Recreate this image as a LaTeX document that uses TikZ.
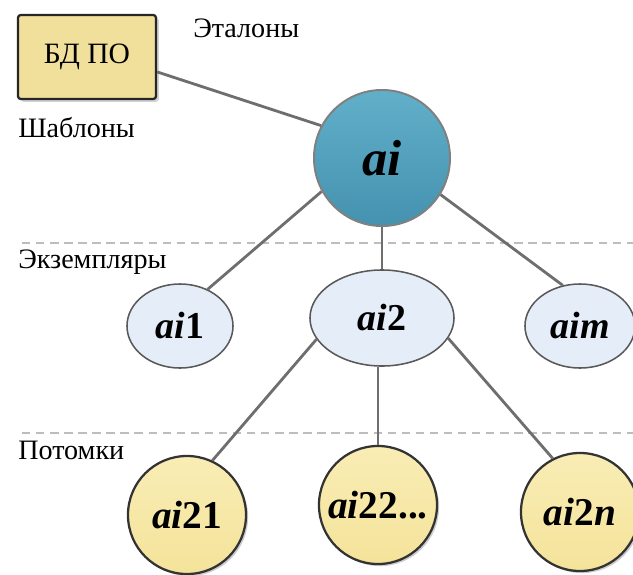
\documentclass[tikz,border=0pt]{standalone}
\usepackage{fontspec}
\setmainfont{Liberation Serif}
\usetikzlibrary{shapes.geometric, positioning, shadows}
\definecolor{tealnode}{HTML}{4492AF}
\definecolor{tealtop}{HTML}{62AFCA}
\definecolor{instfill}{HTML}{E5EEF8}
\definecolor{childfill}{HTML}{F4E39A}
\definecolor{childtop}{HTML}{F9EDB5}
\definecolor{dbfill}{HTML}{F0E09C}
\definecolor{linkgray}{HTML}{6E6E6E}
\definecolor{levelgray}{HTML}{BDBDBD}
\tikzset{
    dbbox/.style={rectangle, rounded corners=2pt, draw=black!85, line width=1.6pt, fill=dbfill, minimum width=3.45cm, minimum height=2.1cm, font=\fontsize{21}{24}\selectfont, drop shadow={opacity=0.35, shadow xshift=2pt, shadow yshift=-2pt}},
    topnode/.style={circle, draw=black!50, line width=1.4pt, top color=tealtop, bottom color=tealnode, minimum size=3.4cm, inner sep=0pt, font=\fontsize{36}{40}\selectfont\bfseries},
    instnode/.style={ellipse, draw=black!65, line width=1.1pt, fill=instfill, inner sep=0pt, font=\fontsize{27}{30}\selectfont\bfseries},
    childnode/.style={circle, draw=black!80, line width=1.6pt, top color=childtop, bottom color=childfill, minimum size=2.95cm, inner sep=0pt, font=\fontsize{28}{30}\selectfont\bfseries, drop shadow={opacity=0.4, shadow xshift=1.5pt, shadow yshift=-1.5pt}},
    link/.style={draw=linkgray, line width=2pt},
    levelline/.style={draw=levelgray, line width=1.2pt, dash pattern=on 6pt off 4pt},
    levellabel/.style={anchor=west, inner sep=0pt, font=\fontsize{20}{23}\selectfont}
}
\begin{document}
\begin{tikzpicture}[x=0.025cm, y=-0.025cm]
    \useasboundingbox (0,0) rectangle (633,574);
    % level separators
    \draw[levelline] (22,243) -- (633,243);
    \draw[levelline] (22,433) -- (633,433);
    % level labels
    \node[levellabel] (etalon) at (193,28) {Эталоны};
    \node[levellabel] (shablon) at (18,128) {Шаблоны};
    \node[levellabel] (ekz) at (18,262) {Экземпляры};
    \node[levellabel] (potomki) at (18,450) {Потомки};
    % nodes
    \node[dbbox] (bd) at (87,57) {БД ПО};
    \node[topnode] (ai) at (382,158) {\textit{ai}};
    \node[instnode, minimum width=2.65cm, minimum height=2.1cm] (ai1) at (180,326) {\textit{ai}1};
    \node[instnode, minimum width=3.6cm, minimum height=2.4cm] (ai2) at (382,318) {\textit{ai}2};
    \node[instnode, minimum width=2.75cm, minimum height=2.1cm] (aim) at (580,326) {\textit{aim}};
    \node[childnode] (ai21) at (187,515) {\textit{ai}21};
    \node[childnode] (ai22) at (378,505) {\textit{ai}22...};
    \node[childnode] (ai2n) at (580,512) {\textit{ai}2\textit{n}};
    % links
    \draw[link] (bd.-12) -- (ai.152);
    \draw[link] (ai.209) -- (ai1.53);
    \draw[link] (ai.south) -- (ai2.north);
    \draw[link] (ai.328) -- (aim.113);
    \draw[link] (ai2.198) -- (ai21.65);
    \draw[link] (ai22.north |- ai2.south) -- (ai22.north);
    \draw[link] (ai2.343) -- (ai2n.117);
\end{tikzpicture}
\end{document}
